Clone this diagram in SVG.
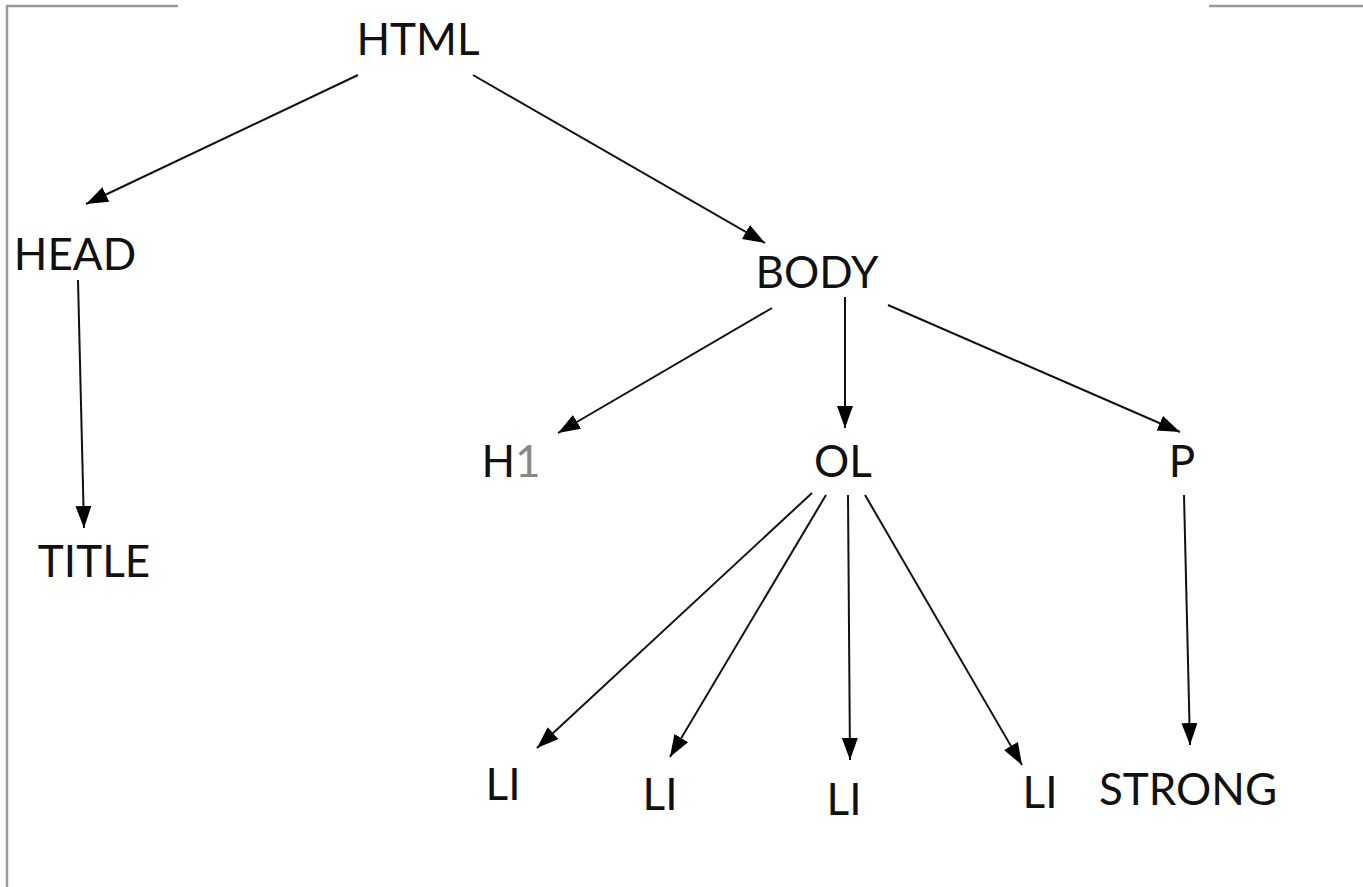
<svg xmlns="http://www.w3.org/2000/svg" width="1363" height="887" viewBox="0 0 1363 887">
<style>
.lbl{font-family:Lato,"Open Sans","Liberation Sans",sans-serif;font-size:44px;fill:#111;text-anchor:middle}
.edge{stroke:#111;stroke-width:2;fill:none;marker-end:url(#ah)}
.frame{stroke:#9a9a9a;stroke-width:2.5;fill:none}
</style>
<defs>
<marker id="ah" markerUnits="userSpaceOnUse" markerWidth="24" markerHeight="18" refX="22" refY="8" orient="auto">
<path d="M0,0 L22,8 L0,16 z" fill="#000"/>
</marker>
</defs>
<rect width="1363" height="887" fill="#fff"/>
<g id="frame">
<path class="frame" d="M7,887 L7,6 L178,6"/>
<path class="frame" d="M1209,6 L1363,6"/>
</g>
<g id="connectors">
<line class="edge" x1="358" y1="75" x2="86" y2="204"/>
<line class="edge" x1="473" y1="75" x2="765" y2="243"/>
<line class="edge" x1="78" y1="280" x2="84" y2="528"/>
<line class="edge" x1="772" y1="308" x2="558" y2="433"/>
<line class="edge" x1="845" y1="297" x2="845" y2="428"/>
<line class="edge" x1="888" y1="305" x2="1180" y2="432"/>
<line class="edge" x1="812" y1="493" x2="537" y2="748"/>
<line class="edge" x1="826" y1="495" x2="670" y2="757"/>
<line class="edge" x1="848" y1="495" x2="850" y2="760"/>
<line class="edge" x1="865" y1="495" x2="1022" y2="765"/>
<line class="edge" x1="1184" y1="495" x2="1190" y2="745"/>
</g>
<g id="html"><text class="lbl" x="418" y="55">HTML</text></g>
<g id="head"><text class="lbl" x="75" y="270">HEAD</text></g>
<g id="body"><text class="lbl" x="817" y="288">BODY</text></g>
<g id="title"><text class="lbl" x="94" y="577">TITLE</text></g>
<g id="h1"><text class="lbl" x="511" y="477">H<tspan fill="#888">1</tspan></text></g>
<g id="ol"><text class="lbl" x="843" y="477">OL</text></g>
<g id="p"><text class="lbl" x="1182" y="477">P</text></g>
<g id="li1"><text class="lbl" x="503" y="800">LI</text></g>
<g id="li2"><text class="lbl" x="660" y="810">LI</text></g>
<g id="li3"><text class="lbl" x="844" y="815">LI</text></g>
<g id="li4"><text class="lbl" x="1040" y="808">LI</text></g>
<g id="strong"><text class="lbl" x="1188" y="805">STRONG</text></g>
</svg>
